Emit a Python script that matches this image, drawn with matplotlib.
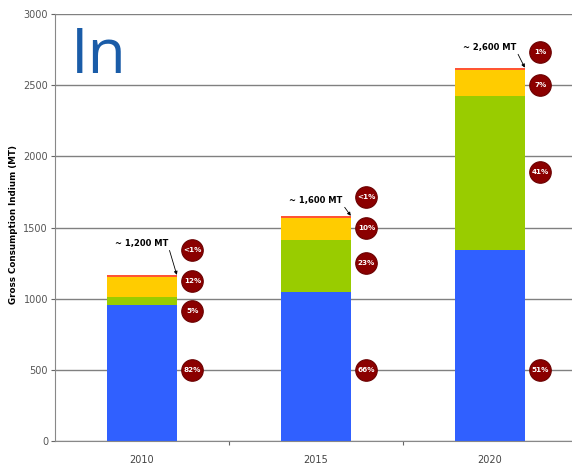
import numpy as np
import matplotlib.pyplot as plt

# 数据：各年份的铟消费量分段 (MT)
years = ["2010", "2015", "2020"]
blue_vals = [955, 1050, 1340]
green_vals = [60, 365, 1085]
yellow_vals = [140, 155, 180]
red_vals = [12, 12, 18]

# 百分比标签和圆点的高度
pct_labels = [
    ["82%", "5%", "12%", "<1%"],
    ["66%", "23%", "10%", "<1%"],
    ["51%", "41%", "7%", "1%"],
]
pct_y = [
    [499, 913, 1124, 1342],
    [499, 1251, 1497, 1715],
    [499, 1890, 2502, 2733],
]
totals_text = ["~ 1,200 MT", "~ 1,600 MT", "~ 2,600 MT"]
totals_text_y = [1390, 1693, 2768]

colors = ["#3060ff", "#99cc00", "#ffcc00", "#ff5533"]

fig = plt.figure(figsize=(5.72, 4.67), dpi=100)
ax = fig.add_axes([55 / 572, 1 - 441 / 467, 522 / 572, 427 / 467])

x = np.arange(len(years))
w = 0.40
bottom = np.zeros(len(years))
for vals, c in zip([blue_vals, green_vals, yellow_vals, red_vals], colors):
    ax.bar(x, vals, w, bottom=bottom, color=c, zorder=2)
    bottom += np.array(vals)

# 百分比圆点
for i in range(len(years)):
    for lab, yy in zip(pct_labels[i], pct_y[i]):
        ax.scatter(x[i] + 0.29, yy, s=240, color="#8b0000", zorder=4,
                   edgecolors="#6a0000", linewidths=0.8)
        ax.text(x[i] + 0.29, yy, lab, color="white", fontsize=5.2,
                fontweight="bold", ha="center", va="center", zorder=5)

# 总量标注
for i in range(len(years)):
    ax.annotate(totals_text[i], xy=(x[i] + w / 2, bottom[i]),
                xytext=(x[i], totals_text_y[i]),
                fontsize=6, fontweight="bold", ha="center", va="center",
                arrowprops=dict(arrowstyle="-|>", color="black", lw=0.6,
                                mutation_scale=5,
                                shrinkA=0, shrinkB=0,
                                relpos=(1.0, 0.0)),
                zorder=6)

ax.text(0.03, 0.9, "In", transform=ax.transAxes, fontsize=45,
        color="#1a5ca8", family="Open Sans", va="center", ha="left")

ax.set_xlim(-0.5, 2.5)
ax.set_ylim(0, 3000)
ax.set_yticks(np.arange(0, 3001, 500))
ax.set_yticklabels([str(v) for v in range(0, 3001, 500)], fontsize=7,
                   color="#555555")
ax.set_xticks([0.5, 1.5])
ax.set_xticklabels([])
ax.set_xticks(x, minor=True)
ax.set_xticklabels(years, minor=True, fontsize=7, color="#444444")
ax.tick_params(axis="x", which="minor", length=0, pad=10)
ax.tick_params(axis="x", which="major", length=3, color="#666666")
ax.tick_params(axis="y", length=3, color="#666666", pad=2)

ax.grid(axis="y", color="#808080", linewidth=1.0, zorder=1)
for s in ["top", "right"]:
    ax.spines[s].set_visible(False)
ax.spines["left"].set_color("#888888")
ax.spines["bottom"].set_color("#888888")

# y 轴标题放在固定位置
fig.text(14 / 572, 1 - 225 / 467, "Gross Consumption Indium (MT)",
         fontsize=6.3, fontweight="bold", rotation=90,
         ha="center", va="center")

fig.savefig("out.png", dpi=100)
